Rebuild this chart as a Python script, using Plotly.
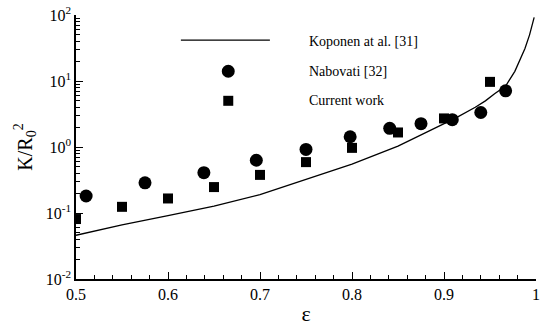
import plotly.graph_objects as go

# Koponen et al. [31] (line)
kop_eps = [0.5, 0.55, 0.6, 0.65, 0.7, 0.75, 0.8, 0.85, 0.9, 0.913, 0.934, 0.945, 0.955, 0.967, 0.977, 0.983, 0.988, 0.993, 0.998]
kop_k = [0.046, 0.066, 0.091, 0.127, 0.19, 0.32, 0.55, 1.03, 2.3, 2.77, 4.0, 5.0, 6.4, 8.4, 14.0, 21.0, 31.0, 50.0, 92.0]

# Nabovati [32] (circles)
nab_eps = [0.511, 0.575, 0.639, 0.696, 0.75, 0.798, 0.841, 0.875, 0.909, 0.94, 0.967]
nab_k = [0.181, 0.287, 0.409, 0.63, 0.92, 1.43, 1.92, 2.26, 2.59, 3.33, 7.1]

# Current work (squares)
cur_eps = [0.5, 0.55, 0.6, 0.65, 0.7, 0.75, 0.8, 0.85, 0.9, 0.95]
cur_k = [0.081, 0.124, 0.166, 0.247, 0.378, 0.59, 0.97, 1.66, 2.71, 9.7]

x_ticks = [0.5, 0.6, 0.7, 0.8, 0.9, 1.0]
x_ticktext = ["0.5", "0.6", "0.7", "0.8", "0.9", "1"]
y_ticks = [0.01, 0.1, 1, 10, 100]
y_ticktext = ["10<sup>-2</sup>", "10<sup>-1</sup>", "10<sup>0</sup>", "10<sup>1</sup>", "10<sup>2</sup>"]

legend_names = ["Koponen at al. [31]", "Nabovati [32]", "Current work"]

FONT = "'Liberation Serif', 'Times New Roman', Times, serif"

fig = go.Figure()
fig.add_trace(go.Scatter(x=kop_eps, y=kop_k, mode="lines", line=dict(color="black", width=1.3),
                         name=legend_names[0], showlegend=False))
fig.add_trace(go.Scatter(x=nab_eps, y=nab_k, mode="markers", marker=dict(symbol="circle", size=13, color="black"),
                         name=legend_names[1], showlegend=False))
fig.add_trace(go.Scatter(x=cur_eps, y=cur_k, mode="markers", marker=dict(symbol="square", size=10, color="black"),
                         name=legend_names[2], showlegend=False))

# manual legend
leg_y = [0.905, 0.787, 0.675]
shapes = [
    dict(type="line", xref="paper", yref="paper", x0=0.228, x1=0.4215, y0=leg_y[0], y1=leg_y[0],
         line=dict(color="black", width=1.3)),
    dict(type="circle", xref="paper", yref="paper", xsizemode="pixel", ysizemode="pixel",
         xanchor=0.331, yanchor=leg_y[1], x0=-6.5, x1=6.5, y0=-6.5, y1=6.5,
         fillcolor="black", line=dict(width=0)),
    dict(type="rect", xref="paper", yref="paper", xsizemode="pixel", ysizemode="pixel",
         xanchor=0.331, yanchor=leg_y[2], x0=-5, x1=5, y0=-5, y1=5,
         fillcolor="black", line=dict(width=0)),
]
annotations = [
    dict(xref="paper", yref="paper", x=0.503, y=yy, text=t, showarrow=False, xanchor="left", yanchor="middle",
         font=dict(family=FONT, size=14, color="black"))
    for t, yy in zip(legend_names, [0.899, 0.785, 0.678])
]

fig.update_layout(
    width=544, height=326,
    margin=dict(l=76, r=4, t=13, b=45),
    paper_bgcolor="white", plot_bgcolor="white",
    font=dict(family=FONT, size=16, color="black"),
    shapes=shapes, annotations=annotations,
    showlegend=False,
)
fig.update_xaxes(
    range=[0.5, 1.0], tickvals=x_ticks, ticktext=x_ticktext,
    ticks="inside", ticklen=7, tickwidth=1, tickcolor="black",
    minor=dict(ticks="inside", ticklen=4, dtick=0.02, tickcolor="black"),
    showline=True, linecolor="black", linewidth=1.5, showgrid=False, zeroline=False,
    title=dict(text="ε", font=dict(size=22, family=FONT), standoff=4),
    tickfont=dict(size=16, family=FONT), ticklabeloverflow="allow",
)
fig.update_yaxes(
    type="log", range=[-2, 2], tickvals=y_ticks, ticktext=y_ticktext,
    ticks="inside", ticklen=7, tickwidth=1, tickcolor="black",
    minor=dict(ticks="inside", ticklen=4, tickcolor="black", dtick="D1"),
    showline=True, linecolor="black", linewidth=1.5, showgrid=False, zeroline=False,
    title=dict(text="K/R<sub>0</sub><sup>2</sup>", font=dict(size=20, family=FONT), standoff=8),
    tickfont=dict(size=16, family=FONT),
)

fig.write_html("out.html")
